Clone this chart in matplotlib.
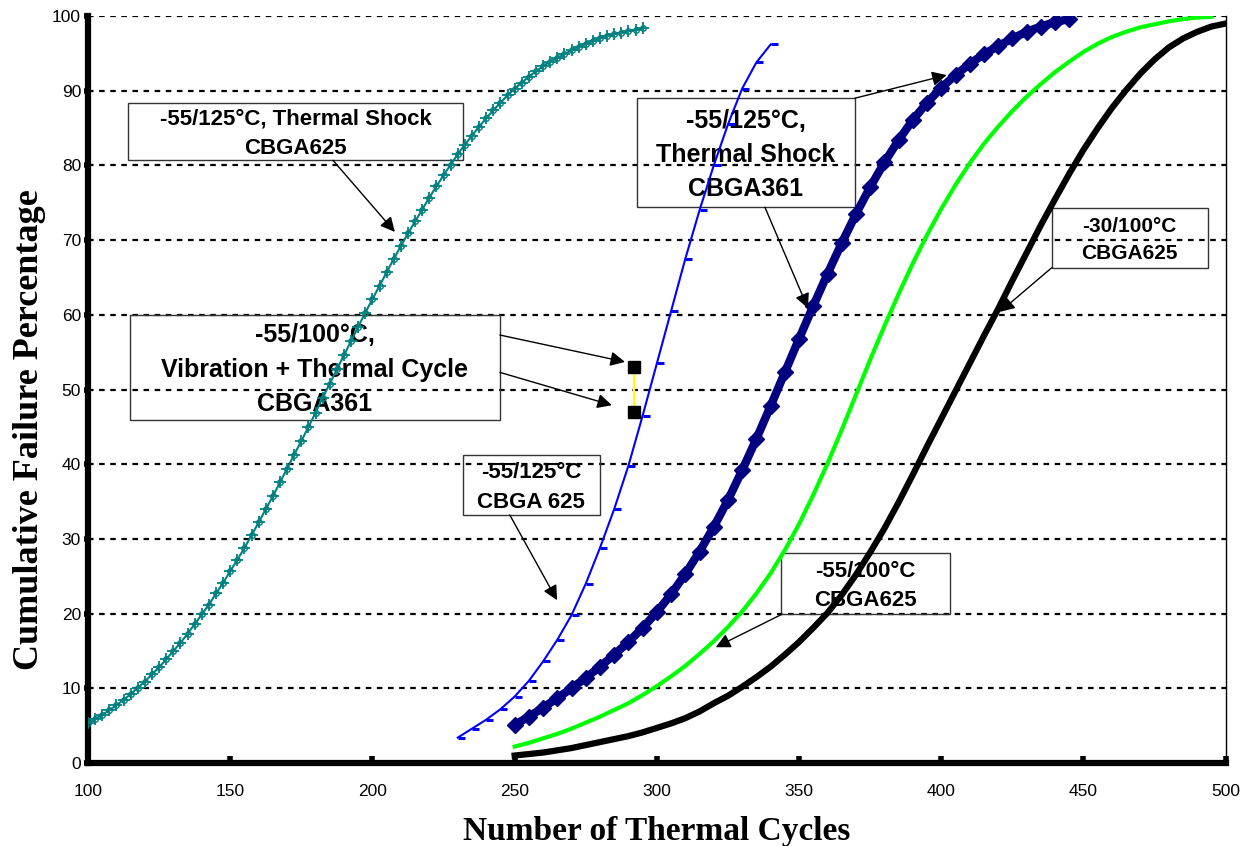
import numpy as np
import matplotlib
matplotlib.use("Agg")
import matplotlib.pyplot as plt
from matplotlib.path import Path
from matplotlib.patches import Rectangle

# --- data ---
teal_x = [100, 102.5, 105, 107.5, 110, 112.5, 115, 117.5, 120, 122.5, 125, 127.5, 130, 132.5, 135, 137.5, 140, 142.5,
          145, 147.5, 150, 152.5, 155, 157.5, 160, 162.5, 165, 167.5, 170, 172.5, 175, 177.5, 180, 182.5, 185, 187.5,
          190, 192.5, 195, 197.5, 200, 202.5, 205, 207.5, 210, 212.5, 215, 217.5, 220, 222.5, 225, 227.5, 230, 232.5,
          235, 237.5, 240, 242.5, 245, 247.5, 250, 252.5, 255, 257.5, 260, 262.5, 265, 267.5, 270, 272.5, 275, 277.5,
          280, 282.5, 285, 287.5, 290, 292.5, 295]
teal_y = [5.3, 5.9, 6.4, 7.1, 7.7, 8.5, 9.2, 10.1, 10.9, 11.9, 12.8, 13.9, 15.0, 16.1, 17.3, 18.6, 19.9, 21.2,
          22.7, 24.1, 25.7, 27.2, 28.8, 30.5, 32.2, 34.0, 35.7, 37.6, 39.4, 41.3, 43.1, 45.0, 46.9, 48.9, 50.8, 52.7,
          54.6, 56.5, 58.4, 60.3, 62.1, 63.9, 65.7, 67.5, 69.2, 70.9, 72.5, 74.1, 75.7, 77.2, 78.7, 80.1, 81.5, 82.8,
          84.0, 85.2, 86.3, 87.4, 88.4, 89.4, 90.3, 91.1, 91.9, 92.6, 93.3, 93.9, 94.4, 94.9, 95.4, 95.9, 96.3, 96.7,
          97.0, 97.3, 97.6, 97.8, 98.0, 98.2, 98.4]

blue_x = [230, 235, 240, 245, 250, 255, 260, 265, 270, 275, 280, 285, 290, 295, 300, 305, 310, 315, 320, 325, 330, 335, 340]
blue_y = [3.4, 4.6, 5.8, 7.2, 8.9, 11.0, 13.6, 16.5, 19.8, 24.0, 28.8, 34.0, 39.8, 46.5, 53.5, 60.5, 67.5, 74.0, 80.0, 85.5,
          90.3, 93.8, 96.2]

navy_x = [250, 255, 260, 265, 270, 275, 280, 285, 290, 295, 300, 305, 310, 315, 320, 325, 330, 335, 340, 345,
          350, 355, 360, 365, 370, 375, 380, 385, 390, 395, 400, 405, 410, 415, 420, 425, 430, 435, 440, 445]
navy_y = [5.1, 6.2, 7.4, 8.7, 10.0, 11.4, 12.9, 14.5, 16.2, 18.1, 20.2, 22.6, 25.3, 28.3, 31.6, 35.2, 39.2, 43.4, 47.8, 52.3,
          56.8, 61.2, 65.5, 69.6, 73.5, 77.1, 80.4, 83.4, 86.1, 88.4, 90.4, 92.1, 93.6, 94.9, 96.0, 97.0, 97.9, 98.6, 99.2, 99.6]

green_x = [250, 255, 260, 265, 270, 275, 280, 285, 290, 295, 300, 305, 310, 315, 320, 325, 330, 335, 340, 345,
           350, 355, 360, 365, 370, 375, 380, 385, 390, 395, 400, 405, 410, 415, 420, 425, 430, 435, 440, 445,
           450, 455, 460, 465, 470, 475, 480, 485, 490, 495]
green_y = [2.2, 2.7, 3.3, 3.9, 4.6, 5.4, 6.2, 7.1, 8.0, 9.1, 10.3, 11.6, 13.0, 14.6, 16.3, 18.2, 20.3, 22.7, 25.4, 28.5,
           32.0, 35.9, 40.1, 44.6, 49.3, 54.0, 58.5, 62.8, 66.9, 70.7, 74.2, 77.4, 80.3, 82.9, 85.2, 87.3, 89.2, 90.9, 92.5, 93.9,
           95.2, 96.3, 97.2, 97.9, 98.5, 98.9, 99.3, 99.6, 99.8, 99.9]

black_x = [250, 255, 260, 265, 270, 275, 280, 285, 290, 295, 300, 305, 310, 315, 320, 325, 330, 335, 340, 345,
           350, 355, 360, 365, 370, 375, 380, 385, 390, 395, 400, 405, 410, 415, 420, 425, 430, 435, 440, 445,
           450, 455, 460, 465, 470, 475, 480, 485, 490, 495, 500]
black_y = [1.0, 1.2, 1.4, 1.7, 2.0, 2.4, 2.8, 3.2, 3.6, 4.1, 4.7, 5.3, 6.0, 6.9, 8.0, 9.0, 10.2, 11.5, 12.9, 14.5,
           16.2, 18.1, 20.1, 22.5, 25.2, 28.2, 31.4, 34.9, 38.6, 42.4, 46.1, 49.8, 53.5, 57.2, 60.8, 64.6, 68.3, 72.0, 75.5, 78.9,
           82.1, 85.0, 87.7, 90.1, 92.3, 94.2, 95.8, 97.0, 97.9, 98.6, 99.0]

vib_x = [292, 292]
vib_y = [47, 53]

x_ticks = [100, 150, 200, 250, 300, 350, 400, 450, 500]
y_ticks = [0, 10, 20, 30, 40, 50, 60, 70, 80, 90, 100]

# --- label boxes: text, box extent (x0, x1, y0, y1), font size ---
boxes = [
    ("-55/125°C, Thermal Shock\nCBGA625", (114.1, 231.8, 80.7, 88.4), 16),
    ("-55/125°C,\nThermal Shock\nCBGA361", (293.0, 369.6, 74.4, 89.0), 18),
    ("-55/100°C,\nVibration + Thermal Cycle\nCBGA361", (114.8, 244.8, 45.9, 60.0), 18),
    ("-55/125°C\nCBGA 625", (231.8, 280.0, 33.2, 41.2), 16),
    ("-55/100°C\nCBGA625", (343.6, 403.0, 19.9, 28.1), 16),
    ("-30/100°C\nCBGA625", (438.8, 493.7, 66.3, 74.3), 15),
]
# arrows: (start, tip)
arrows = [
    ((186.1, 80.7), (207.9, 71.1)),
    ((369.6, 89.0), (401.9, 92.1)),
    ((338.0, 74.4), (353.1, 60.9)),
    ((244.8, 57.3), (288.8, 53.7)),
    ((244.8, 52.3), (284.2, 47.9)),
    ((248.3, 33.2), (264.9, 21.8)),
    ((343.9, 19.9), (320.7, 15.5)),
    ((438.8, 66.3), (420.6, 60.4)),
]

fig = plt.figure(figsize=(12.52, 8.46), dpi=100)
ax = fig.add_axes([0.0703, 0.0981, 0.9087, 0.8829])

# grid
for yv in y_ticks[1:]:
    ax.axhline(yv, color="black", lw=1.6, ls=(0, (2.5, 2.5)), zorder=1)

for label, (x0, x1, y0, y1), fs in boxes:
    ax.add_patch(Rectangle((x0, y0), x1 - x0, y1 - y0, facecolor="none", edgecolor="#333333", lw=1.0, zorder=2))
    ax.text((x0 + x1) / 2, (y0 + y1) / 2 - 0.3, label, ha="center", va="center", fontsize=fs, fontweight="bold",
            family="Liberation Sans", linespacing=1.55, zorder=2.5)

# curves
ax.plot(teal_x, teal_y, color="#008080", lw=1.5, marker="+", ms=8, mew=1.3, zorder=4)
ax.plot(teal_x, teal_y, ls="none", marker="o", ms=4, mfc="none", mec="#008080", mew=1, zorder=4)

dash = Path([(0, 0), (1, 0)], [Path.MOVETO, Path.LINETO])
ax.plot(blue_x, blue_y, color="#0000FF", lw=1.5, zorder=4)
ax.plot(blue_x, blue_y, ls="none", marker=dash, ms=10, mew=2.2, mec="#0000FF", zorder=4)

ax.plot(navy_x, navy_y, color="#000080", lw=6, marker="D", ms=8, zorder=4)
ax.plot(green_x, green_y, color="#00FF00", lw=3, zorder=4)
ax.plot(black_x, black_y, color="black", lw=4.5, zorder=4)

ax.plot(vib_x, vib_y, color="#FFFF00", lw=1.5, marker="s", ms=9, mfc="black", mec="black", zorder=5)

for (sx, sy), (tx, ty) in arrows:
    ax.annotate("", xy=(tx, ty), xytext=(sx, sy),
                arrowprops=dict(arrowstyle="-|>", color="black", lw=1.0, mutation_scale=22,
                                shrinkA=0, shrinkB=0), zorder=6)

ax.set_xlim(100, 500)
ax.set_ylim(0, 100)
ax.set_xticks(x_ticks)
ax.set_yticks(y_ticks)
ax.tick_params(axis="x", direction="in", length=5, width=4, labelsize=12.5, pad=15)
ax.tick_params(axis="y", direction="out", length=3, width=4, labelsize=12.5, pad=2)
for lab in ax.get_xticklabels() + ax.get_yticklabels():
    lab.set_family("Liberation Sans")

ax.spines["left"].set_linewidth(4.5)
ax.spines["bottom"].set_linewidth(4.5)
ax.spines["top"].set_visible(False)
ax.spines["right"].set_linewidth(1.0)

ax.set_xlabel("Number of Thermal Cycles", family="Liberation Serif", fontweight="bold", fontsize=24, labelpad=12)
ax.set_ylabel("Cumulative Failure Percentage", family="Liberation Serif", fontweight="bold", fontsize=26)
ax.yaxis.set_label_coords(-0.037, 0.446)

fig.savefig("out.png", dpi=100)
